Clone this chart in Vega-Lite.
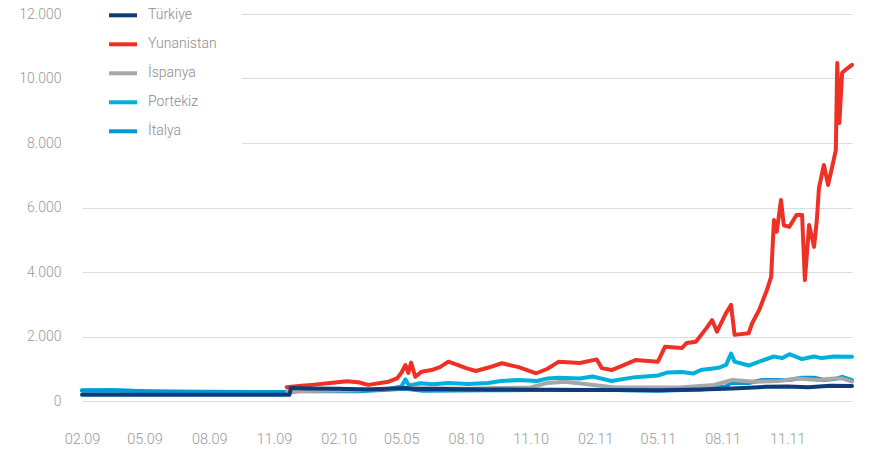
{
  "$schema": "https://vega.github.io/schema/vega-lite/v6.json",
  "width": 770,
  "height": 387,
  "autosize": {"type": "none"},
  "padding": {"left": 82, "top": 14, "right": 18, "bottom": 53},
  "background": "white",
  "config": {"view": {"stroke": null}, "font": "Roboto"},
  "data": {"values": [
    {"s":"Portekiz","d":"2009-02-01","v":330},{"s":"Portekiz","d":"2009-03-15","v":340},{"s":"Portekiz","d":"2009-05-01","v":300},{"s":"Portekiz","d":"2009-07-01","v":290},{"s":"Portekiz","d":"2009-09-01","v":280},{"s":"Portekiz","d":"2009-11-20","v":280},{"s":"Portekiz","d":"2009-12-07","v":320},{"s":"Portekiz","d":"2010-01-15","v":340},{"s":"Portekiz","d":"2010-03-01","v":350},{"s":"Portekiz","d":"2010-04-15","v":380},{"s":"Portekiz","d":"2010-05-01","v":450},{"s":"Portekiz","d":"2010-05-07","v":670},{"s":"Portekiz","d":"2010-05-12","v":480},{"s":"Portekiz","d":"2010-05-28","v":550},{"s":"Portekiz","d":"2010-06-15","v":520},{"s":"Portekiz","d":"2010-07-07","v":560},{"s":"Portekiz","d":"2010-08-04","v":530},{"s":"Portekiz","d":"2010-09-01","v":560},{"s":"Portekiz","d":"2010-09-20","v":620},{"s":"Portekiz","d":"2010-10-15","v":650},{"s":"Portekiz","d":"2010-11-10","v":620},{"s":"Portekiz","d":"2010-11-25","v":700},{"s":"Portekiz","d":"2010-12-11","v":720},{"s":"Portekiz","d":"2011-01-10","v":700},{"s":"Portekiz","d":"2011-01-28","v":760},{"s":"Portekiz","d":"2011-02-24","v":620},{"s":"Portekiz","d":"2011-03-30","v":740},{"s":"Portekiz","d":"2011-05-01","v":790},{"s":"Portekiz","d":"2011-05-14","v":880},{"s":"Portekiz","d":"2011-06-04","v":900},{"s":"Portekiz","d":"2011-06-20","v":850},{"s":"Portekiz","d":"2011-07-01","v":960},{"s":"Portekiz","d":"2011-07-26","v":1030},{"s":"Portekiz","d":"2011-08-06","v":1120},{"s":"Portekiz","d":"2011-08-13","v":1470},{"s":"Portekiz","d":"2011-08-18","v":1220},{"s":"Portekiz","d":"2011-09-07","v":1100},{"s":"Portekiz","d":"2011-09-26","v":1250},{"s":"Portekiz","d":"2011-10-13","v":1380},{"s":"Portekiz","d":"2011-10-25","v":1330},{"s":"Portekiz","d":"2011-11-04","v":1450},{"s":"Portekiz","d":"2011-11-22","v":1300},{"s":"Portekiz","d":"2011-12-09","v":1380},{"s":"Portekiz","d":"2011-12-20","v":1330},{"s":"Portekiz","d":"2012-01-07","v":1380},{"s":"Portekiz","d":"2012-02-01","v":1370},
    {"s":"İtalya","d":"2009-02-01","v":320},{"s":"İtalya","d":"2009-04-01","v":320},{"s":"İtalya","d":"2009-06-01","v":290},{"s":"İtalya","d":"2009-11-20","v":280},{"s":"İtalya","d":"2009-12-07","v":300},{"s":"İtalya","d":"2010-03-01","v":300},{"s":"İtalya","d":"2010-05-07","v":380},{"s":"İtalya","d":"2010-06-01","v":320},{"s":"İtalya","d":"2010-09-01","v":330},{"s":"İtalya","d":"2010-12-01","v":350},{"s":"İtalya","d":"2011-03-01","v":340},{"s":"İtalya","d":"2011-05-01","v":320},{"s":"İtalya","d":"2011-07-01","v":360},{"s":"İtalya","d":"2011-08-06","v":450},{"s":"İtalya","d":"2011-08-13","v":560},{"s":"İtalya","d":"2011-09-07","v":560},{"s":"İtalya","d":"2011-09-26","v":650},{"s":"İtalya","d":"2011-11-04","v":650},{"s":"İtalya","d":"2011-11-22","v":720},{"s":"İtalya","d":"2011-12-09","v":720},{"s":"İtalya","d":"2011-12-23","v":650},{"s":"İtalya","d":"2012-01-07","v":680},{"s":"İtalya","d":"2012-01-18","v":750},{"s":"İtalya","d":"2012-02-01","v":650},
    {"s":"İspanya","d":"2009-11-20","v":300},{"s":"İspanya","d":"2010-03-01","v":330},{"s":"İspanya","d":"2010-05-07","v":400},{"s":"İspanya","d":"2010-08-01","v":380},{"s":"İspanya","d":"2010-11-01","v":420},{"s":"İspanya","d":"2010-11-25","v":560},{"s":"İspanya","d":"2010-12-20","v":600},{"s":"İspanya","d":"2011-01-20","v":520},{"s":"İspanya","d":"2011-03-01","v":420},{"s":"İspanya","d":"2011-06-01","v":420},{"s":"İspanya","d":"2011-07-20","v":500},{"s":"İspanya","d":"2011-08-15","v":650},{"s":"İspanya","d":"2011-09-15","v":600},{"s":"İspanya","d":"2011-10-20","v":620},{"s":"İspanya","d":"2011-11-15","v":700},{"s":"İspanya","d":"2011-12-15","v":650},{"s":"İspanya","d":"2012-01-07","v":700},{"s":"İspanya","d":"2012-01-18","v":700},{"s":"İspanya","d":"2012-02-01","v":600},
    {"s":"Yunanistan","d":"2009-11-19","v":430},{"s":"Yunanistan","d":"2009-12-10","v":470},{"s":"Yunanistan","d":"2009-12-25","v":500},{"s":"Yunanistan","d":"2010-01-20","v":560},{"s":"Yunanistan","d":"2010-02-13","v":610},{"s":"Yunanistan","d":"2010-03-01","v":580},{"s":"Yunanistan","d":"2010-03-15","v":500},{"s":"Yunanistan","d":"2010-04-13","v":600},{"s":"Yunanistan","d":"2010-04-25","v":700},{"s":"Yunanistan","d":"2010-05-01","v":870},{"s":"Yunanistan","d":"2010-05-07","v":1115},{"s":"Yunanistan","d":"2010-05-11","v":870},{"s":"Yunanistan","d":"2010-05-15","v":1190},{"s":"Yunanistan","d":"2010-05-21","v":750},{"s":"Yunanistan","d":"2010-05-30","v":910},{"s":"Yunanistan","d":"2010-06-13","v":960},{"s":"Yunanistan","d":"2010-06-25","v":1050},{"s":"Yunanistan","d":"2010-07-07","v":1220},{"s":"Yunanistan","d":"2010-07-20","v":1120},{"s":"Yunanistan","d":"2010-08-01","v":1020},{"s":"Yunanistan","d":"2010-08-15","v":930},{"s":"Yunanistan","d":"2010-09-01","v":1030},{"s":"Yunanistan","d":"2010-09-21","v":1170},{"s":"Yunanistan","d":"2010-10-15","v":1050},{"s":"Yunanistan","d":"2010-11-09","v":860},{"s":"Yunanistan","d":"2010-11-25","v":1000},{"s":"Yunanistan","d":"2010-12-11","v":1220},{"s":"Yunanistan","d":"2011-01-10","v":1180},{"s":"Yunanistan","d":"2011-02-03","v":1290},{"s":"Yunanistan","d":"2011-02-10","v":1020},{"s":"Yunanistan","d":"2011-02-24","v":960},{"s":"Yunanistan","d":"2011-03-10","v":1080},{"s":"Yunanistan","d":"2011-03-30","v":1270},{"s":"Yunanistan","d":"2011-05-01","v":1220},{"s":"Yunanistan","d":"2011-05-11","v":1680},{"s":"Yunanistan","d":"2011-06-04","v":1640},{"s":"Yunanistan","d":"2011-06-11","v":1800},{"s":"Yunanistan","d":"2011-06-24","v":1840},{"s":"Yunanistan","d":"2011-07-09","v":2260},{"s":"Yunanistan","d":"2011-07-17","v":2510},{"s":"Yunanistan","d":"2011-07-24","v":2150},{"s":"Yunanistan","d":"2011-08-06","v":2730},{"s":"Yunanistan","d":"2011-08-13","v":2980},{"s":"Yunanistan","d":"2011-08-18","v":2050},{"s":"Yunanistan","d":"2011-09-07","v":2100},{"s":"Yunanistan","d":"2011-09-12","v":2410},{"s":"Yunanistan","d":"2011-09-22","v":2820},{"s":"Yunanistan","d":"2011-10-03","v":3440},{"s":"Yunanistan","d":"2011-10-09","v":3850},{"s":"Yunanistan","d":"2011-10-13","v":5610},{"s":"Yunanistan","d":"2011-10-17","v":5250},{"s":"Yunanistan","d":"2011-10-23","v":6230},{"s":"Yunanistan","d":"2011-10-27","v":5450},{"s":"Yunanistan","d":"2011-11-04","v":5400},{"s":"Yunanistan","d":"2011-11-14","v":5770},{"s":"Yunanistan","d":"2011-11-22","v":5770},{"s":"Yunanistan","d":"2011-11-26","v":3750},{"s":"Yunanistan","d":"2011-12-02","v":5460},{"s":"Yunanistan","d":"2011-12-09","v":4780},{"s":"Yunanistan","d":"2011-12-13","v":5610},{"s":"Yunanistan","d":"2011-12-16","v":6600},{"s":"Yunanistan","d":"2011-12-23","v":7320},{"s":"Yunanistan","d":"2011-12-29","v":6700},{"s":"Yunanistan","d":"2012-01-05","v":7380},{"s":"Yunanistan","d":"2012-01-09","v":7780},{"s":"Yunanistan","d":"2012-01-11","v":10480},{"s":"Yunanistan","d":"2012-01-14","v":8620},{"s":"Yunanistan","d":"2012-01-18","v":10180},{"s":"Yunanistan","d":"2012-01-25","v":10310},{"s":"Yunanistan","d":"2012-02-01","v":10420},
    {"s":"Türkiye","d":"2009-02-01","v":190},{"s":"Türkiye","d":"2009-11-23","v":190},{"s":"Türkiye","d":"2009-11-25","v":400},{"s":"Türkiye","d":"2009-12-15","v":390},{"s":"Türkiye","d":"2010-02-01","v":380},{"s":"Türkiye","d":"2010-03-15","v":360},{"s":"Türkiye","d":"2010-05-07","v":400},{"s":"Türkiye","d":"2010-05-20","v":370},{"s":"Türkiye","d":"2010-07-01","v":370},{"s":"Türkiye","d":"2010-09-01","v":360},{"s":"Türkiye","d":"2010-11-01","v":350},{"s":"Türkiye","d":"2011-01-01","v":340},{"s":"Türkiye","d":"2011-03-01","v":340},{"s":"Türkiye","d":"2011-05-01","v":330},{"s":"Türkiye","d":"2011-07-01","v":360},{"s":"Türkiye","d":"2011-08-15","v":390},{"s":"Türkiye","d":"2011-10-01","v":440},{"s":"Türkiye","d":"2011-11-01","v":450},{"s":"Türkiye","d":"2011-12-01","v":430},{"s":"Türkiye","d":"2012-01-01","v":470},{"s":"Türkiye","d":"2012-02-01","v":465}
  ]},
  "mark": {"type": "line", "strokeWidth": 4, "strokeJoin": "round", "strokeCap": "round"},
  "encoding": {
    "x": {
      "field": "d", "type": "temporal", "title": null,
      "scale": {"type": "utc", "domain": [{"year": 2009, "month": 2, "date": 1, "utc": true}, {"year": 2012, "month": 2, "date": 1, "utc": true}]},
      "axis": {
        "values": [
          {"year": 2009, "month": 2, "date": 1, "utc": true}, {"year": 2009, "month": 5, "date": 1, "utc": true}, {"year": 2009, "month": 8, "date": 1, "utc": true}, {"year": 2009, "month": 11, "date": 1, "utc": true},
          {"year": 2010, "month": 2, "date": 1, "utc": true}, {"year": 2010, "month": 5, "date": 1, "utc": true}, {"year": 2010, "month": 8, "date": 1, "utc": true}, {"year": 2010, "month": 11, "date": 1, "utc": true},
          {"year": 2011, "month": 2, "date": 1, "utc": true}, {"year": 2011, "month": 5, "date": 1, "utc": true}, {"year": 2011, "month": 8, "date": 1, "utc": true}, {"year": 2011, "month": 11, "date": 1, "utc": true}
        ],
        "labelExpr": "utcFormat(datum.value, '%m.%y') == '05.10' ? '05.05' : utcFormat(datum.value, '%m.%y')",
        "grid": false, "ticks": false, "domain": false,
        "labelPadding": 31, "labelFontSize": 14.5, "labelColor": "#999999", "labelFont": "Roboto", "labelFontWeight": 300, "labelFlush": false
      }
    },
    "y": {
      "field": "v", "type": "quantitative", "title": null,
      "scale": {"domain": [0, 12000]},
      "axis": {
        "values": [0, 2000, 4000, 6000, 8000, 10000, 12000],
        "labelExpr": "replace(format(datum.value, ','), ',', '.')",
        "grid": true, "gridColor": "#dcdcdc", "gridWidth": 1.2,
        "ticks": false, "domain": false, "labelPadding": 21,
        "labelFontSize": 14, "labelColor": "#999999", "labelFont": "Roboto", "labelFontWeight": 300
      }
    },
    "color": {
      "field": "s", "type": "nominal",
      "scale": {"domain": ["Türkiye", "Yunanistan", "İspanya", "Portekiz", "İtalya"], "range": ["#0d3c78", "#ee3124", "#a7a7a9", "#00b0dc", "#0099d8"]},
      "legend": {
        "title": null, "orient": "none", "legendX": 0, "legendY": -39.7,
        "padding": 25, "fillColor": "white", "strokeColor": null,
        "symbolType": "stroke", "symbolSize": 784, "symbolStrokeWidth": 4,
        "rowPadding": 5, "labelOffset": 9, "labelFontSize": 14, "labelColor": "#8c8c8c", "labelFont": "Roboto", "labelFontWeight": 300
      }
    }
  }
}
